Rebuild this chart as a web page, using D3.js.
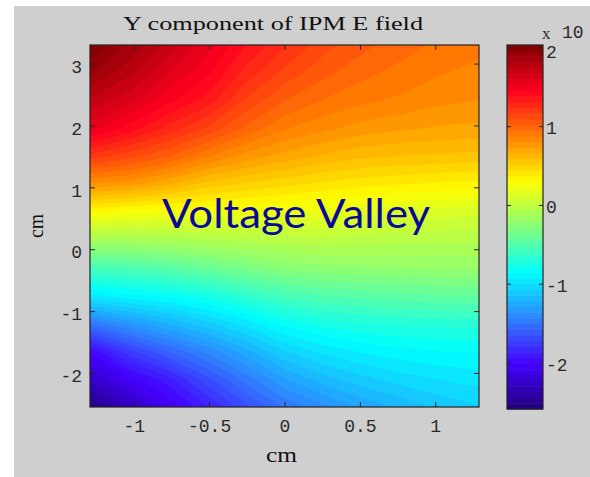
<!DOCTYPE html>
<html><head><meta charset="utf-8">
<script src="https://cdn.jsdelivr.net/npm/d3@7"></script>
<style>body{margin:0;background:#fff;} svg{display:block}</style>
</head><body>
<svg id="c" width="590" height="477"></svg>
<script>
// ---- data ----
const xValues = [-1.29, -1.032, -0.774, -0.516, -0.258, 0, 0.258, 0.516, 0.774, 1.032, 1.29];
const yValues = [3.3, 2.85, 2.4, 1.95, 1.5, 1.05, 0.6, 0.15, -0.3, -0.75, -1.2, -1.65, -2.1, -2.55];
// E_y values, one row per yValues entry (top to bottom), columns follow xValues
const fieldRows = [
  [ 2.02,  1.88,  1.72,  1.55,  1.38,  1.25,  1.12,  1.04,  0.98,  0.93,  0.90],
  [ 1.90,  1.76,  1.60,  1.47,  1.28,  1.14,  1.04,  0.97,  0.92,  0.88,  0.85],
  [ 1.72,  1.62,  1.47,  1.35,  1.15,  1.02,  0.94,  0.89,  0.86,  0.82,  0.80],
  [ 1.55,  1.42,  1.28,  1.15,  1.00,  0.88,  0.82,  0.77,  0.74,  0.72,  0.71],
  [ 1.20,  1.12,  1.02,  0.88,  0.77,  0.70,  0.64,  0.60,  0.58,  0.57,  0.56],
  [ 0.78,  0.75,  0.66,  0.55,  0.50,  0.46,  0.42,  0.39,  0.37,  0.35,  0.34],
  [ 0.30,  0.26,  0.25,  0.24,  0.23,  0.22,  0.20,  0.17,  0.14,  0.12,  0.10],
  [-0.12, -0.12, -0.10, -0.08, -0.05, -0.03, -0.02, -0.03, -0.04, -0.05, -0.05],
  [-0.55, -0.52, -0.47, -0.40, -0.33, -0.26, -0.23, -0.22, -0.21, -0.20, -0.20],
  [-0.95, -0.88, -0.84, -0.76, -0.65, -0.55, -0.50, -0.47, -0.45, -0.43, -0.42],
  [-1.50, -1.35, -1.22, -1.10, -0.97, -0.83, -0.76, -0.72, -0.70, -0.69, -0.68],
  [-2.00, -1.75, -1.58, -1.42, -1.25, -1.08, -0.98, -0.92, -0.88, -0.86, -0.85],
  [-2.25, -2.05, -1.90, -1.68, -1.48, -1.30, -1.18, -1.10, -1.04, -1.00, -0.97],
  [-2.55, -2.30, -2.08, -1.88, -1.68, -1.50, -1.38, -1.28, -1.20, -1.13, -1.08]
];
const xTicks = [-1, -0.5, 0, 0.5, 1];
const yTicks = [-2, -1, 0, 1, 2, 3];
const cbTicks = [-2, -1, 0, 1, 2];
const cbDomain = [-2.59, 2.03];
const titleText = "Y component of IPM E field";
const xLabel = "cm", yLabel = "cm";
const cbExponent = ["x", "10"];
const annotation = "Voltage Valley";

// ---- layout ----
const W = 590, H = 477;
const P = {l: 90, r: 479, t: 45, b: 407};
const CB = {l: 507, r: 543, t: 45, b: 409};
const nLevels = 64;
const tickFont = "'Liberation Mono', monospace";
const serifFont = "'Liberation Serif', serif";
const fmt = d => String(d);   // plain hyphen-minus, as in the picture

const svg = d3.select("#c");
svg.append("rect").attr("x", 0).attr("y", 0).attr("width", W).attr("height", H).attr("fill", "#fff");
svg.append("rect").attr("x", 14).attr("y", 6).attr("width", W - 14).attr("height", H - 6).attr("fill", "#cfcfcf");

const x = d3.scaleLinear().domain([xValues[0], xValues[xValues.length - 1]]).range([P.l, P.r]);
const y = d3.scaleLinear().domain([yValues[yValues.length - 1], yValues[0]]).range([P.b, P.t]);
const yc = d3.scaleLinear().domain(cbDomain).range([CB.b, CB.t]);

// jet-like colormap as it appears in the picture
const jet = d3.scaleLinear()
  .domain([0, 0.125, 0.25, 0.375, 0.5, 0.625, 0.75, 0.875, 1])
  .range(["#22007a", "#4400ff", "#2f84ff", "#00ffff", "#84ff7c", "#ffff00", "#ff8000", "#ff0020", "#7e0000"])
  .interpolate(d3.interpolateRgb);
const step = (cbDomain[1] - cbDomain[0]) / nLevels;
const thresholds = d3.range(nLevels).map(k => cbDomain[0] + k * step);
const bandColor = k => jet((k + 0.5) / nLevels);

// ---- field via d3.contours ----
const nx = xValues.length, ny = yValues.length;
const flat = fieldRows.flat();
const contours = d3.contours().size([nx, ny]).thresholds(thresholds)(flat);
const dxg = (xValues[nx - 1] - xValues[0]) / (nx - 1);
const dyg = (yValues[0] - yValues[ny - 1]) / (ny - 1);
const proj = d3.geoTransform({
  point: function(cx, cy) {
    this.stream.point(x(xValues[0] + (cx - 0.5) * dxg), y(yValues[0] - (cy - 0.5) * dyg));
  }
});
const path = d3.geoPath(proj);
svg.append("clipPath").attr("id", "pc").append("rect")
  .attr("x", P.l).attr("y", P.t).attr("width", P.r - P.l).attr("height", P.b - P.t);
svg.append("g").attr("clip-path", "url(#pc)")
  .selectAll("path").data(contours).join("path")
  .attr("d", path)
  .attr("fill", (d, i) => bandColor(i))
  .attr("stroke", (d, i) => bandColor(i)).attr("stroke-width", 0.6);

// ---- axes of the field ----
function styleAxis(g, showText) {
  g.select(".domain").remove();
  g.selectAll(".tick line").attr("stroke", "#222");
  g.selectAll(".tick text").attr("font-family", tickFont).attr("font-size", 18).attr("fill", "#2a2a2a")
    .style("display", showText ? null : "none");
}
svg.append("g").attr("transform", `translate(0,${P.b})`)
  .call(d3.axisBottom(x).tickValues(xTicks).tickFormat(fmt).tickSize(-5).tickPadding(12))
  .call(g => styleAxis(g, true));
svg.append("g").attr("transform", `translate(0,${P.t})`)
  .call(d3.axisTop(x).tickValues(xTicks).tickSize(-5)).call(g => styleAxis(g, false));
svg.append("g").attr("transform", `translate(${P.l},0)`)
  .call(d3.axisLeft(y).tickValues(yTicks).tickFormat(fmt).tickSize(-5).tickPadding(8))
  .call(g => styleAxis(g, true))
  .call(g => g.selectAll(".tick text").attr("y", 3));
svg.append("g").attr("transform", `translate(${P.r},0)`)
  .call(d3.axisRight(y).tickValues(yTicks).tickSize(-5)).call(g => styleAxis(g, false));
svg.append("rect").attr("x", P.l).attr("y", P.t).attr("width", P.r - P.l).attr("height", P.b - P.t)
  .attr("fill", "none").attr("stroke", "#222").attr("stroke-width", 1.2);

// ---- colorbar ----
svg.append("g").selectAll("rect").data(thresholds).join("rect")
  .attr("x", CB.l).attr("width", CB.r - CB.l)
  .attr("y", d => yc(d + step)).attr("height", d => yc(d) - yc(d + step) + 0.5)
  .attr("fill", (d, i) => bandColor(i));
svg.append("g").attr("transform", `translate(${CB.r},0)`)
  .call(d3.axisRight(yc).tickValues(cbTicks).tickFormat(fmt).tickSize(-4).tickPadding(3))
  .call(g => styleAxis(g, true))
  .call(g => g.selectAll(".tick text").attr("y", d => d === 2 ? 4 : 2));
svg.append("g").attr("transform", `translate(${CB.l},0)`)
  .call(d3.axisLeft(yc).tickValues(cbTicks).tickSize(-4)).call(g => styleAxis(g, false));
svg.append("rect").attr("x", CB.l).attr("y", CB.t).attr("width", CB.r - CB.l).attr("height", CB.b - CB.t)
  .attr("fill", "none").attr("stroke", "#222").attr("stroke-width", 1.2);
svg.append("text").attr("x", 542).attr("y", 38.5).attr("font-family", serifFont).attr("font-size", 17)
  .attr("fill", "#2a2a2a").text(cbExponent[0]);
svg.append("text").attr("x", 562).attr("y", 38).attr("font-family", tickFont).attr("font-size", 18)
  .attr("fill", "#2a2a2a").text(cbExponent[1]);

// ---- titles and labels ----
svg.append("text").attr("x", 123).attr("y", 30).attr("font-family", serifFont).attr("font-size", 18)
  .attr("fill", "#111").attr("textLength", 300).attr("lengthAdjust", "spacingAndGlyphs").text(titleText);
svg.append("text").attr("x", 266).attr("y", 462).attr("font-family", serifFont).attr("font-size", 21)
  .attr("fill", "#111").attr("textLength", 31).attr("lengthAdjust", "spacingAndGlyphs").text(xLabel);
svg.append("text").attr("transform", "translate(43,238) rotate(-90)").attr("font-family", serifFont)
  .attr("font-size", 21).attr("fill", "#111").attr("textLength", 24).attr("lengthAdjust", "spacingAndGlyphs").text(yLabel);

// ---- annotation ----
svg.append("text").attr("x", 162).attr("y", 228).attr("font-family", "Lato, 'Open Sans', sans-serif")
  .attr("font-size", 41).attr("fill", "#0a0a96").attr("textLength", 268).attr("lengthAdjust", "spacingAndGlyphs")
  .text(annotation);
</script>
</body></html>
